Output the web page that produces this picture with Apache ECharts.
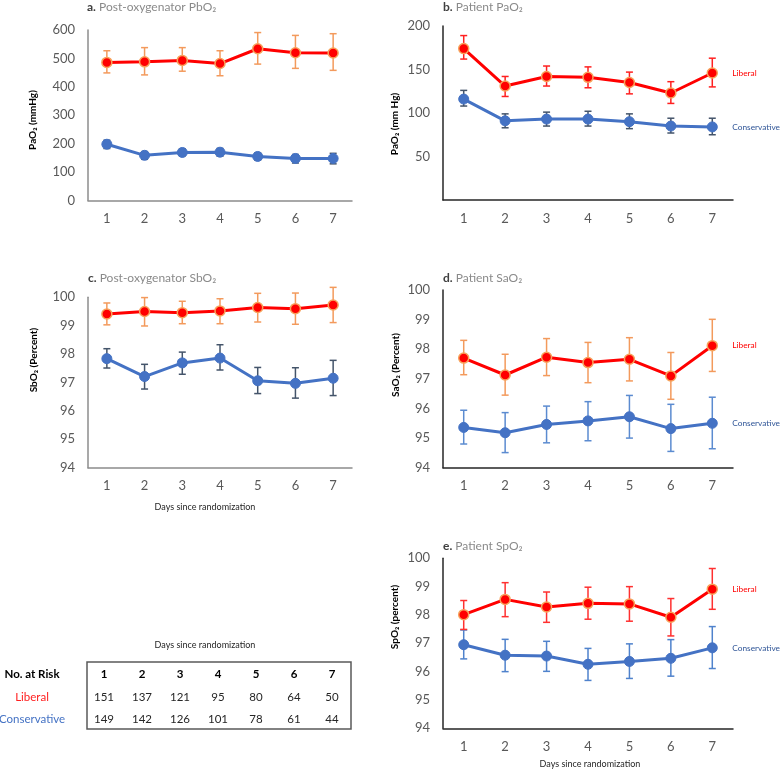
<!DOCTYPE html>
<html><head><meta charset="utf-8">
<script src="https://cdn.jsdelivr.net/npm/echarts@6/dist/echarts.min.js"></script>
<style>html,body{margin:0;padding:0;background:#fff}#c{width:783px;height:769px}</style>
</head><body><div id="c"></div>
<script>
// ---------- data ----------
const days = ['1','2','3','4','5','6','7'];

// a. Post-oxygenator PbO2
const aLib   = [486, 488, 493, 482, 534, 520, 519];
const aLibLo = [449, 442, 455, 439, 480, 465, 458];
const aLibHi = [527, 538, 538, 527, 591, 581, 587];
const aCon   = [198, 159, 169, 170, 155, 148, 148];
const aConLo = [183, 145, 157, 156, 142, 132, 129];
const aConHi = [212, 172, 182, 183, 168, 162, 166];

// b. Patient PaO2
const bLib   = [174, 131, 142, 141, 135, 123, 146];
const bLibLo = [162, 119, 131, 129, 122, 111, 130];
const bLibHi = [189, 142, 154, 153, 147, 136, 163];
const bCon   = [116, 91, 93, 93, 90, 85, 84];
const bConLo = [108, 83, 85, 85, 82, 77, 75];
const bConHi = [126, 99, 101, 102, 99, 94, 94];

// c. Post-oxygenator SbO2
const cLib   = [99.41, 99.50, 99.46, 99.52, 99.64, 99.60, 99.73];
const cLibLo = [99.03, 98.99, 99.07, 99.07, 99.13, 99.05, 99.11];
const cLibHi = [99.80, 99.99, 99.86, 99.95, 100.14, 100.15, 100.35];
const cCon   = [97.84, 97.21, 97.69, 97.86, 97.06, 96.97, 97.15];
const cConLo = [97.51, 96.77, 97.29, 97.44, 96.61, 96.45, 96.54];
const cConHi = [98.19, 97.64, 98.07, 98.33, 97.53, 97.52, 97.78];

// d. Patient SaO2
const dLib   = [97.70, 97.13, 97.73, 97.55, 97.66, 97.10, 98.12];
const dLibLo = [97.14, 96.45, 97.11, 96.87, 96.93, 96.31, 97.25];
const dLibHi = [98.30, 97.83, 98.36, 98.23, 98.39, 97.89, 99.01];
const dCon   = [95.36, 95.18, 95.46, 95.58, 95.72, 95.32, 95.50];
const dConLo = [94.80, 94.51, 94.84, 94.91, 95.00, 94.55, 94.64];
const dConHi = [95.94, 95.86, 96.08, 96.23, 96.44, 96.14, 96.38];

// e. Patient SpO2
const eLib   = [98.01, 98.55, 98.28, 98.41, 98.39, 97.92, 98.91];
const eLibLo = [97.49, 97.94, 97.74, 97.85, 97.78, 97.26, 98.20];
const eLibHi = [98.51, 99.14, 98.81, 98.98, 99.00, 98.58, 99.64];
const eCon   = [96.95, 96.58, 96.55, 96.26, 96.36, 96.47, 96.84];
const eConLo = [96.45, 96.00, 96.01, 95.69, 95.76, 95.84, 96.11];
const eConHi = [97.47, 97.14, 97.07, 96.82, 96.98, 97.13, 97.59];

// number at risk table
const riskHeader = 'No. at Risk';
const riskLiberal = [151, 137, 121, 95, 80, 64, 50];
const riskConservative = [149, 142, 126, 101, 78, 61, 44];
const xTitle = 'Days since randomization';

// ---------- layout ----------
const FONT = 'Lato, "Open Sans", sans-serif';
const RED = '#FF0000', BLUE = '#4472C4';
const panels = [
  {tag:'a.', title:'Post-oxygenator PbO₂', yName:'PaO₂ (mmHg)', grid:{left:88,top:30,width:264,height:170.5},
   min:0,max:600,interval:100,hideZero:false,axisColor:'#8c8c8c',
   lib:[aLib,aLibLo,aLibHi], con:[aCon,aConLo,aConHi], libErr:'#F39A5C', conErr:'#44546A', ends:false,
   titlePos:[87,7], yNamePos:[33,120]},
  {tag:'b.', title:'Patient PaO₂', yName:'PaO₂ (mm Hg)', grid:{left:443,top:26,width:290,height:174},
   min:0,max:200,interval:50,hideZero:true,axisColor:'#262626',
   lib:[bLib,bLibLo,bLibHi], con:[bCon,bConLo,bConHi], libErr:'#FF2020', conErr:'#44546A', ends:true,
   titlePos:[443,7], yNamePos:[395,124]},
  {tag:'c.', title:'Post-oxygenator SbO₂', yName:'SbO₂ (Percent)', grid:{left:88,top:297.3,width:264,height:170.4},
   min:94,max:100,interval:1,hideZero:false,axisColor:'#8c8c8c',
   lib:[cLib,cLibLo,cLibHi], con:[cCon,cConLo,cConHi], libErr:'#F39A5C', conErr:'#44546A', ends:false,
   titlePos:[88,278.5], yNamePos:[34,360]},
  {tag:'d.', title:'Patient SaO₂', yName:'SaO₂ (Percent)', grid:{left:443,top:290,width:290,height:177.7},
   min:94,max:100,interval:1,hideZero:false,axisColor:'#262626',
   lib:[dLib,dLibLo,dLibHi], con:[dCon,dConLo,dConHi], libErr:'#F39A5C', conErr:'#5B8BD0', ends:true,
   titlePos:[443,278.5], yNamePos:[396,365]},
  {tag:'e.', title:'Patient SpO₂', yName:'SpO₂ (percent)', grid:{left:443,top:558.3,width:290,height:170},
   min:94,max:100,interval:1,hideZero:false,axisColor:'#262626',
   lib:[eLib,eLibLo,eLibHi], con:[eCon,eConLo,eConHi], libErr:'#FF3030', conErr:'#4F82CC', ends:true,
   titlePos:[443,546], yNamePos:[395,617]}
];

function errBar(i, lo, hi, color) {
  return {
    type:'custom', xAxisIndex:i, yAxisIndex:i, clip:false, z:1, silent:true,
    data: lo.map((v,k)=>[k, v, hi[k]]),
    encode:{x:0, y:[1,2]},
    renderItem:(params, api)=>{
      const x = api.value(0);
      const p1 = api.coord([x, api.value(1)]);
      const p2 = api.coord([x, api.value(2)]);
      const h = 3.5, st = {stroke:color, lineWidth:1.5};
      return {type:'group', children:[
        {type:'line', shape:{x1:p1[0],y1:p1[1],x2:p2[0],y2:p2[1]}, style:st},
        {type:'line', shape:{x1:p1[0]-h,y1:p1[1],x2:p1[0]+h,y2:p1[1]}, style:st},
        {type:'line', shape:{x1:p2[0]-h,y1:p2[1],x2:p2[0]+h,y2:p2[1]}, style:st}
      ]};
    }
  };
}

function lineSeries(i, data, isLib, ends) {
  return {
    type:'line', xAxisIndex:i, yAxisIndex:i, data:data, z:3,
    symbol:'circle', symbolSize:10, silent:true,
    lineStyle:{color: isLib ? RED : BLUE, width:3},
    itemStyle: isLib ? {color:RED, borderColor:'#F7A35C', borderWidth:1.5} : {color:BLUE, borderColor:BLUE, borderWidth:1},
    endLabel: ends ? {show:true, formatter: isLib ? 'Liberal' : 'Conservative', distance:20,
      color: isLib ? '#FF0000' : '#2F5597', fontSize:8.3, fontFamily:FONT} : {show:false}
  };
}

const grid = [], xAxis = [], yAxis = [], series = [], graphic = [];
panels.forEach((p, i) => {
  grid.push(Object.assign({outerBoundsMode:'none', containLabel:false}, p.grid));
  xAxis.push({type:'category', gridIndex:i, data:days, boundaryGap:true,
    axisLine:{lineStyle:{color:p.axisColor, width:1.5}}, axisTick:{show:false},
    axisLabel:{color:'#595959', fontSize:13, fontFamily:FONT, margin:12}});
  yAxis.push({type:'value', gridIndex:i, min:p.min, max:p.max, interval:p.interval,
    splitLine:{show:false}, axisTick:{show:false},
    axisLine:{show:true, lineStyle:{color:p.axisColor, width:1.5}},
    axisLabel:{color:'#595959', fontSize:13, fontFamily:FONT, margin:13,
      formatter: v => (p.hideZero && v === 0) ? '' : String(v)}});
  series.push(errBar(i, p.con[1], p.con[2], p.conErr));
  series.push(errBar(i, p.lib[1], p.lib[2], p.libErr));
  series.push(lineSeries(i, p.con[0], false, p.ends));
  series.push(lineSeries(i, p.lib[0], true, p.ends));
  graphic.push({type:'text', x:p.titlePos[0], y:p.titlePos[1], silent:true,
    style:{text:'{t|' + p.tag + '} ' + p.title, fill:'#8a8a8a', font:'12px ' + FONT, verticalAlign:'middle',
      rich:{t:{fontWeight:'bold', fill:'#404040', fontSize:12, fontFamily:FONT}}}});
  graphic.push({type:'text', x:p.yNamePos[0], y:p.yNamePos[1], rotation:Math.PI/2, silent:true,
    style:{text:p.yName, fill:'#000', font:'bold 10px ' + FONT, align:'center', verticalAlign:'middle'}});
});

// x-axis titles
[[205,507],[205,645],[590,764]].forEach(pos => {
  graphic.push({type:'text', x:pos[0], y:pos[1], silent:true,
    style:{text:xTitle, fill:'#262626', font:'9px ' + FONT, align:'center', verticalAlign:'middle'}});
});

// risk table
const tbl = {left:87, top:662, right:351, bottom:729, col0:104, step:38, rows:[674, 697, 719], labelX:32};
graphic.push({type:'rect', shape:{x:tbl.left, y:tbl.top, width:tbl.right-tbl.left, height:tbl.bottom-tbl.top},
  style:{fill:'none', stroke:'#595959', lineWidth:1.5}, silent:true});
graphic.push({type:'text', x:tbl.labelX, y:tbl.rows[0], silent:true,
  style:{text:riskHeader, fill:'#000', font:'bold 11.5px ' + FONT, align:'center', verticalAlign:'middle'}});
graphic.push({type:'text', x:tbl.labelX, y:tbl.rows[1], silent:true,
  style:{text:'Liberal', fill:'#FF2020', font:'11.5px ' + FONT, align:'center', verticalAlign:'middle'}});
graphic.push({type:'text', x:tbl.labelX, y:tbl.rows[2], silent:true,
  style:{text:'Conservative', fill:'#4472C4', font:'11.5px ' + FONT, align:'center', verticalAlign:'middle'}});
days.forEach((d, k) => {
  const x = tbl.col0 + k * tbl.step;
  graphic.push({type:'text', x:x, y:tbl.rows[0], silent:true,
    style:{text:d, fill:'#000', font:'bold 11.5px ' + FONT, align:'center', verticalAlign:'middle'}});
  graphic.push({type:'text', x:x, y:tbl.rows[1], silent:true,
    style:{text:String(riskLiberal[k]), fill:'#262626', font:'11.5px ' + FONT, align:'center', verticalAlign:'middle'}});
  graphic.push({type:'text', x:x, y:tbl.rows[2], silent:true,
    style:{text:String(riskConservative[k]), fill:'#262626', font:'11.5px ' + FONT, align:'center', verticalAlign:'middle'}});
});

const chart = echarts.init(document.getElementById('c'), null, {renderer:'canvas'});
chart.setOption({
  animation:false, backgroundColor:'#fff', textStyle:{fontFamily:FONT},
  grid, xAxis, yAxis, series, graphic
});
</script></body></html>
